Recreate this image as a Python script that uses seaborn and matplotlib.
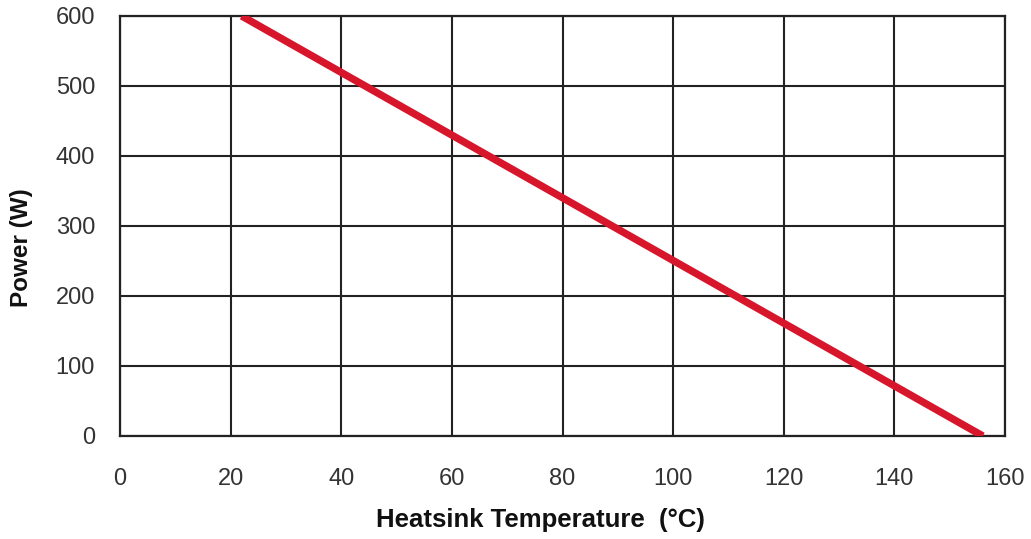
import matplotlib
matplotlib.use("Agg")
import matplotlib.pyplot as plt
import seaborn as sns
import pandas as pd

temperature = [22, 156]
power = [600, 0]
x_ticks = [0, 20, 40, 60, 80, 100, 120, 140, 160]
y_ticks = [0, 100, 200, 300, 400, 500, 600]

sns.set_style("white")
plt.rcParams['font.family'] = ['Liberation Sans', 'DejaVu Sans']

df = pd.DataFrame({"Temperature": temperature, "Power": power})

fig = plt.figure(figsize=(10.31, 5.39), dpi=100)
ax = fig.add_axes([120/1031, 103/539, 885/1031, 420/539])

sns.lineplot(data=df, x="Temperature", y="Power", ax=ax, color="#d7152b",
             linewidth=5.3, solid_capstyle="butt", zorder=5)

ax.set_xlim(0, 160)
ax.set_ylim(0, 600)
ax.set_xticks(x_ticks)
ax.set_yticks(y_ticks)
ax.grid(True, color="#222222", linewidth=1.5)
ax.set_axisbelow(True)
for s in ax.spines.values():
    s.set_color("#222222")
    s.set_linewidth(1.6)
ax.tick_params(length=0, labelsize=17, colors="#333333")
ax.tick_params(axis="y", pad=18)
ax.tick_params(axis="x", pad=23)
ax.set_xlabel("Heatsink Temperature  (°C)", fontsize=18.5, fontweight="bold", color="#111111", labelpad=13)
ax.set_ylabel("Power (W)", fontsize=17.5, fontweight="bold", color="#111111", labelpad=16)
ax.xaxis.label.set_x(0.475)
ax.yaxis.label.set_y(0.448)

fig.savefig("out.png", dpi=100, facecolor="white")
